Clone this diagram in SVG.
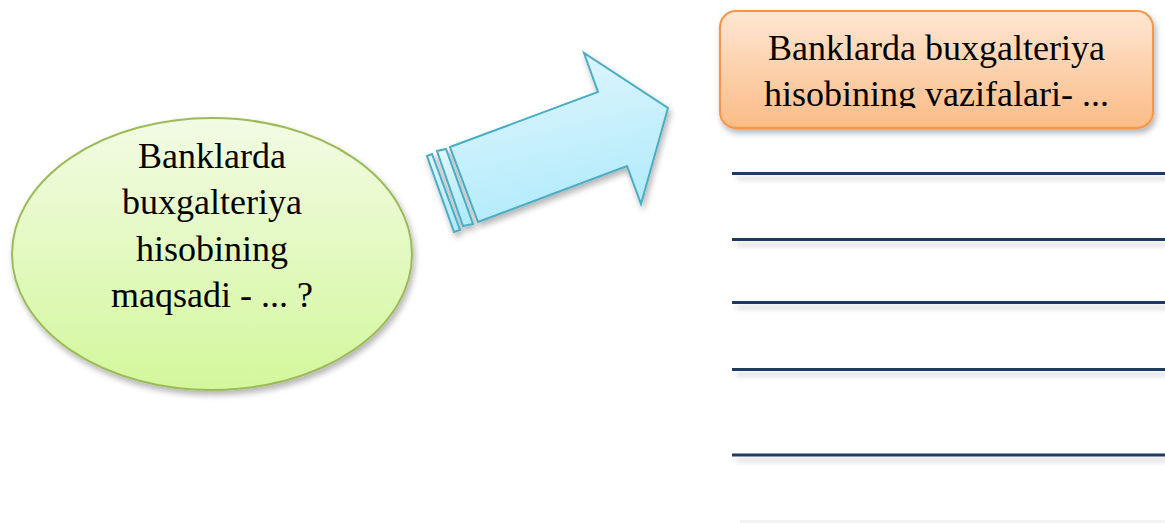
<svg xmlns="http://www.w3.org/2000/svg" width="1165" height="523" viewBox="0 0 1165 523">
<defs>
<linearGradient id="gEll" x1="0" y1="0" x2="0" y2="1">
<stop offset="0" stop-color="#f2fbe4"/>
<stop offset="1" stop-color="#d3f79c"/>
</linearGradient>
<linearGradient id="gArr" x1="0" y1="0" x2="0.3" y2="1">
<stop offset="0" stop-color="#e3f7fd"/>
<stop offset="1" stop-color="#b3ebfb"/>
</linearGradient>
<linearGradient id="gBox" x1="0" y1="0" x2="0" y2="1">
<stop offset="0" stop-color="#fde6d3"/>
<stop offset="1" stop-color="#fbbc86"/>
</linearGradient>
<filter id="sh" x="-10%" y="-10%" width="130%" height="140%">
<feGaussianBlur in="SourceAlpha" stdDeviation="3"/>
<feOffset dx="2" dy="4" result="b"/>
<feComponentTransfer><feFuncA type="linear" slope="0.3"/></feComponentTransfer>
<feMerge><feMergeNode/><feMergeNode in="SourceGraphic"/></feMerge>
</filter>
<filter id="lsh" x="-5%" y="-300%" width="110%" height="800%">
<feGaussianBlur in="SourceAlpha" stdDeviation="2.5"/>
<feOffset dx="4" dy="5" result="b"/>
<feComponentTransfer><feFuncA type="linear" slope="0.18"/></feComponentTransfer>
<feMerge><feMergeNode/><feMergeNode in="SourceGraphic"/></feMerge>
</filter>
<clipPath id="boxClip"><rect x="720" y="11" width="433" height="97"/></clipPath>
<style>
.t{font-family:"Liberation Serif","Times New Roman",serif;font-size:36px;fill:#000;text-anchor:middle}
.ln{stroke:#1f3b64;stroke-width:3;fill:none}
.lnhi{stroke:#6d86a8;stroke-width:1;fill:none}
</style>
</defs>
<rect width="1165" height="523" fill="#ffffff"/>

<g id="ellipse-node">
<ellipse cx="212" cy="254" rx="200" ry="136" fill="url(#gEll)" stroke="#9bbb59" stroke-width="2" filter="url(#sh)"/>
<text class="t" x="212" y="168">Banklarda</text>
<text class="t" x="212" y="214">buxgalteriya</text>
<text class="t" x="212" y="261">hisobining</text>
<text class="t" x="212" y="307">maqsadi - ... ?</text>
</g>

<g id="connectors">
<g id="arrow" fill="url(#gArr)" stroke="#4bacc6" stroke-width="2" stroke-linejoin="miter" filter="url(#sh)">
<polygon points="427,156 432,154 460,230 454,232"/>
<polygon points="437,151 446,149 473,224 463,226"/>
<polygon points="450,147 598,92 584,53 668,108 641,204 627,166 478,222"/>
</g>
</g>

<g id="box-node">
<rect x="720" y="11" width="433" height="117" rx="16" ry="16" fill="url(#gBox)" stroke="#f79646" stroke-width="2" filter="url(#sh)"/>
<g clip-path="url(#boxClip)">
<text class="t" x="936.5" y="60">Banklarda buxgalteriya</text>
<text class="t" x="936.5" y="106">hisobining vazifalari- ...</text>
</g>
</g>

<g id="lines">
<g filter="url(#lsh)">
<line class="ln" x1="732" y1="173.5" x2="1165" y2="173.5"/>
<line class="ln" x1="732" y1="239.5" x2="1165" y2="239.5"/>
<line class="ln" x1="732" y1="302.5" x2="1165" y2="302.5"/>
<line class="ln" x1="732" y1="369.5" x2="1165" y2="369.5"/>
<line class="ln" x1="732" y1="455" x2="1165" y2="455"/>
</g>
<line x1="740" y1="521.5" x2="1165" y2="521.5" stroke="#f3f3f3" stroke-width="3"/>
</g>
</svg>
